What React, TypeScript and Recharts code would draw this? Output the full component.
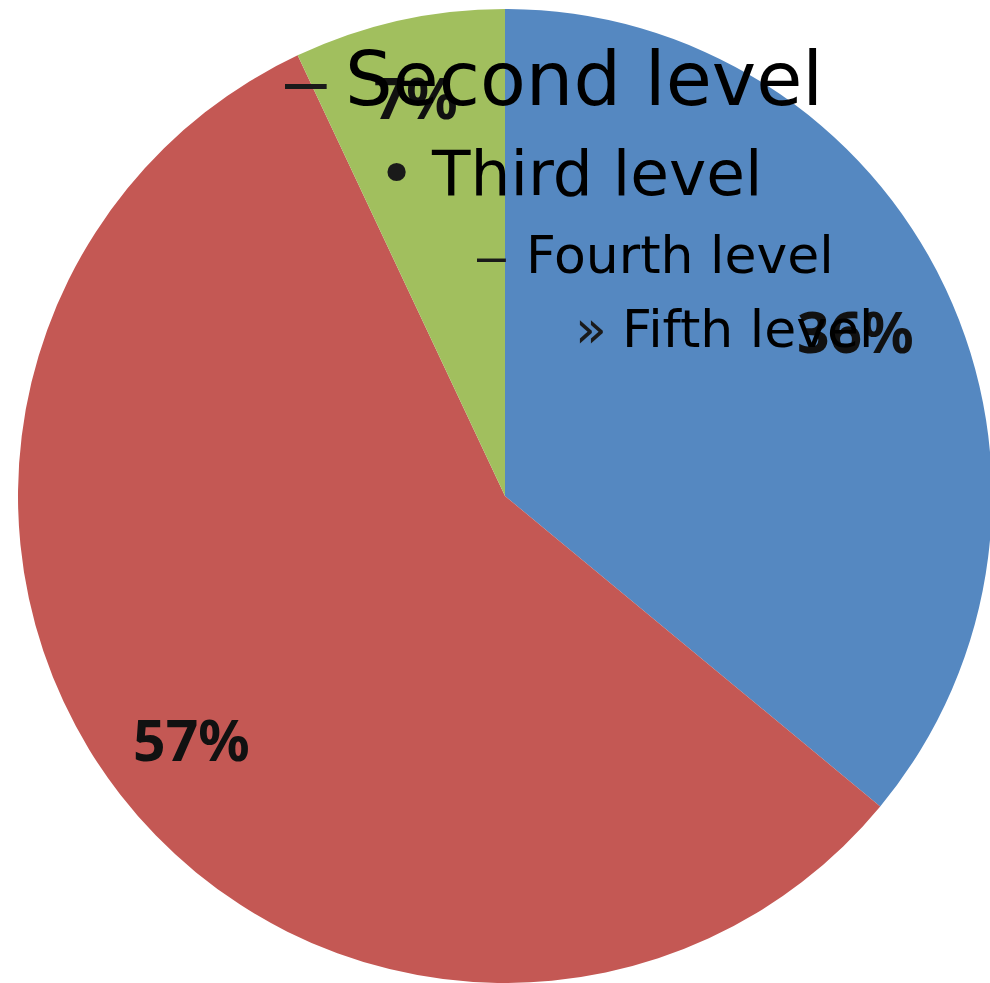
import { Cell, Pie, PieChart } from "recharts";

const categories = ["A", "B", "C"];
const shares = [36, 57, 7];
const sliceColors = ["#5588C1", "#C45854", "#A1BF5E"];
// how far out each percent label sits (fraction of radius)
const labelRadius = [0.795, 0.815, 0.84];

// text-placeholder outline laid over the chart
const outlineText = ["Second level", "Third level", "Fourth level", "Fifth level"];
const outlineBullets = ["\u2013", "\u2022", "\u2013", "\u00BB"];
const outlineLayout = [
    { bx: 285, tx: 345, y: 105, size: 75, bulletFont: "'Liberation Sans', sans-serif" },
    { bx: 378, tx: 432, y: 195, size: 63, bulletFont: "'DejaVu Sans', sans-serif" },
    { bx: 477, tx: 526, y: 273, size: 52, bulletFont: "'Liberation Sans', sans-serif" },
    { bx: 575, tx: 622, y: 347, size: 52, bulletFont: "'DejaVu Sans', sans-serif" },
];

const data = categories.map((name, i) => ({ name, value: shares[i] }));

const RADIAN = Math.PI / 180;

const renderPercent = (props: any) => {
    const { cx, cy, midAngle, outerRadius, percent, index } = props;
    const r = outerRadius * labelRadius[index];
    const x = cx + r * Math.cos(-midAngle * RADIAN);
    const y = cy + r * Math.sin(-midAngle * RADIAN);
    return (
        <text
            x={x}
            y={y}
            fill="#111"
            textAnchor="middle"
            dominantBaseline="central"
            fontFamily="'Noto Sans', sans-serif"
            fontWeight="bold"
            fontSize={57}
        >
            {`${Math.round(percent * 100)}%`}
        </text>
    );
};

const App = () => {
    return (
        <div
            style={{
                position: "absolute",
                left: 0,
                top: 0,
                width: 990,
                height: 983,
                background: "#fff",
            }}
        >
            <PieChart width={990} height={983} margin={{ top: 0, right: 0, bottom: 0, left: 0 }}>
                <Pie
                    data={data}
                    dataKey="value"
                    nameKey="name"
                    cx={505}
                    cy={496}
                    outerRadius={487}
                    startAngle={90}
                    endAngle={-270}
                    stroke="none"
                    label={renderPercent}
                    labelLine={false}
                    isAnimationActive={false}
                >
                    {data.map((entry, idx) => (
                        <Cell key={`cell-${entry.name}`} fill={sliceColors[idx]} />
                    ))}
                </Pie>
            </PieChart>
            <svg
                width={990}
                height={983}
                style={{ position: "absolute", left: 0, top: 0, pointerEvents: "none" }}
            >
                {outlineText.map((t, i) => {
                    const l = outlineLayout[i];
                    return (
                        <g key={t} fontSize={l.size}>
                            <text x={l.bx} y={l.y} fill="#1a1a1a" fontFamily={l.bulletFont}>
                                {outlineBullets[i]}
                            </text>
                            <text x={l.tx} y={l.y} fill="#000" fontFamily="'DejaVu Sans', sans-serif">
                                {t}
                            </text>
                        </g>
                    );
                })}
            </svg>
        </div>
    );
};

export default App;
